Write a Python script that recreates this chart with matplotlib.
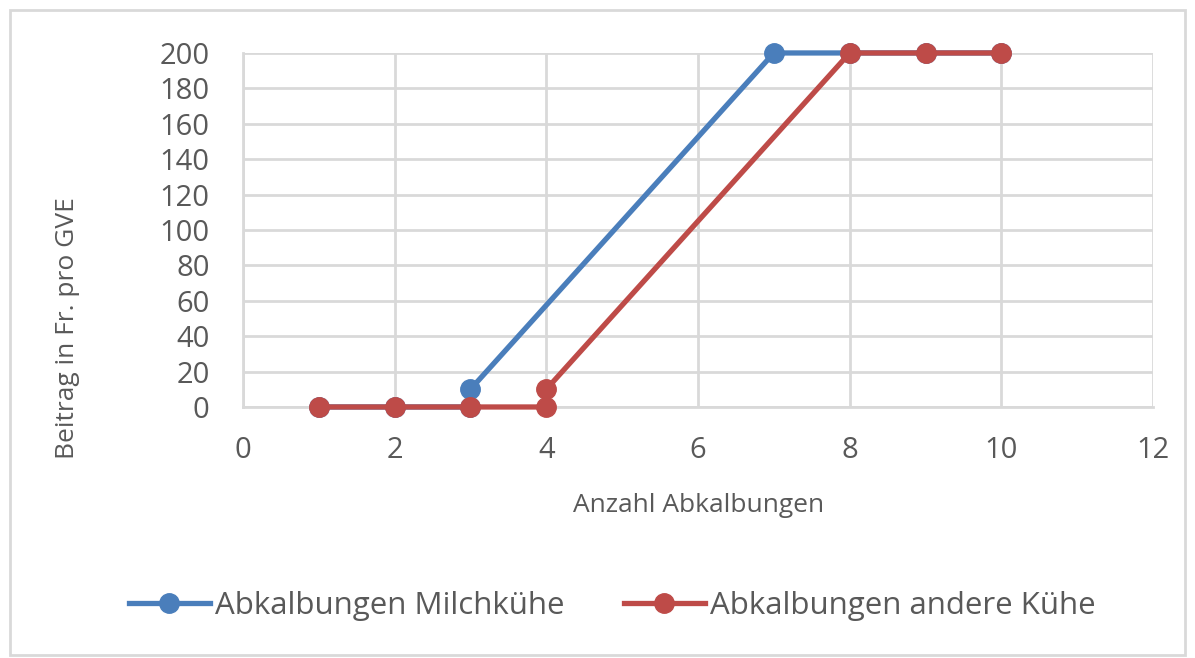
import matplotlib.pyplot as plt
from matplotlib.patches import Rectangle

# data
x_milch = [1, 2, 3, 3, 7, 8, 9, 10]
y_milch = [0, 0, 0, 10, 200, 200, 200, 200]
x_andere = [1, 2, 3, 4, 4, 8, 9, 10]
y_andere = [0, 0, 0, 0, 10, 200, 200, 200]

x_ticks = [0, 2, 4, 6, 8, 10, 12]
y_ticks = list(range(0, 201, 20))

blue = '#4A7EBB'
red = '#BE4B48'
grey_txt = '#595959'
grid_col = '#D9D9D9'

plt.rcParams['font.family'] = ['Open Sans', 'DejaVu Sans']

fig = plt.figure(figsize=(11.95, 6.58), dpi=100)
ax = fig.add_axes([0.2033, 0.3815, 0.7616, 0.538])

ax.plot(x_milch, y_milch, color=blue, lw=3.8, marker='o', ms=14,
        label='Abkalbungen Milchkühe', zorder=3, clip_on=False)
ax.plot(x_andere, y_andere, color=red, lw=3.8, marker='o', ms=14,
        label='Abkalbungen andere Kühe', zorder=4, clip_on=False)

ax.set_xlim(0, 12)
ax.set_ylim(0, 200)
ax.set_xticks(x_ticks)
ax.set_yticks(y_ticks)
ax.grid(True, color=grid_col, lw=2)
ax.set_axisbelow(True)
for s in ['top', 'right']:
    ax.spines[s].set_visible(False)
for s in ['left', 'bottom']:
    ax.spines[s].set_color(grid_col)
    ax.spines[s].set_linewidth(2)
ax.tick_params(length=0, labelsize=21, colors=grey_txt)
ax.tick_params(axis='y', pad=24)
ax.tick_params(axis='x', pad=21)

fig.text(699 / 1195, 1 - 505 / 658, 'Anzahl Abkalbungen', ha='center', va='center',
         fontsize=19, color=grey_txt)
fig.text(68 / 1195, 1 - 328 / 658, 'Beitrag in Fr. pro GVE', ha='center', va='center',
         rotation=90, fontsize=19, color=grey_txt)

fig.legend(loc='center', bbox_to_anchor=(612 / 1195, 1 - 606 / 658), ncol=2, frameon=False,
           fontsize=22.5, labelcolor=grey_txt, handlelength=2.6, columnspacing=1.9,
           handletextpad=0.15)

fig.patches.append(Rectangle((10 / 1195, 0.005), 1 - 20 / 1195, 1 - 10 / 658 - 0.005,
                             transform=fig.transFigure, fill=False,
                             edgecolor=grid_col, lw=2))

fig.savefig('out.png', dpi=100)
